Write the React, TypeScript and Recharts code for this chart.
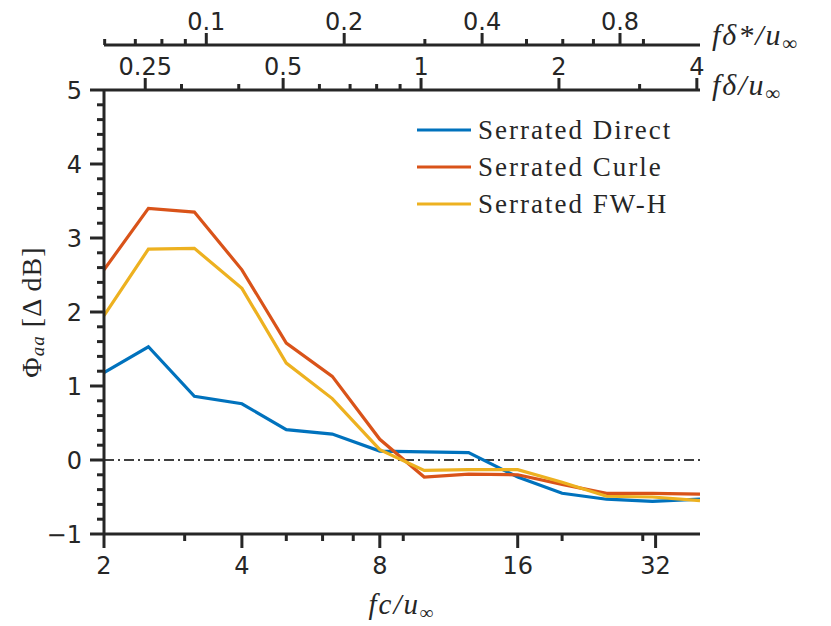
import React from 'react';
import { LineChart, Line, XAxis, YAxis, ReferenceLine, Legend } from 'recharts';

// ---- data ----
const fcValues = [2, 2.5, 3.15, 4, 5, 6.3, 8, 10, 12.5, 16, 20, 25, 31.5, 40];
const serratedDirect = [1.18, 1.53, 0.86, 0.76, 0.41, 0.35, 0.12, 0.11, 0.1, -0.23, -0.45, -0.53, -0.56, -0.53];
const serratedCurle = [2.57, 3.4, 3.35, 2.57, 1.58, 1.13, 0.28, -0.23, -0.19, -0.2, -0.33, -0.45, -0.45, -0.46];
const serratedFWH = [1.95, 2.85, 2.86, 2.32, 1.31, 0.83, 0.14, -0.14, -0.13, -0.13, -0.3, -0.49, -0.5, -0.55];

const seriesNames = ['Serrated Direct', 'Serrated Curle', 'Serrated FW-H'];
const seriesKeys = ['direct', 'curle', 'fwh'];
const seriesColors = ['#0072BD', '#D95319', '#EDB120'];

const fcMajorTicks = [2, 4, 8, 16, 32];
const fcMinorTicks = [3, 5, 6, 7, 9, 20, 30];
const fdMajorTicks = [0.25, 0.5, 1, 2, 4];
const fdMinorTicks = [0.3, 0.4, 0.6, 0.7, 0.8, 0.9, 3];
const fdsMajorTicks = [0.1, 0.2, 0.4, 0.8];
const fdsMinorTicks = [0.06, 0.07, 0.08, 0.09, 0.3, 0.5, 0.6, 0.7, 0.9];
const yMajorTicks = [-1, 0, 1, 2, 3, 4, 5];
const yMinorTicks = [-0.8, -0.6, -0.4, -0.2, 0.2, 0.4, 0.6, 0.8, 1.2, 1.4, 1.6, 1.8, 2.2, 2.4, 2.6, 2.8, 3.2, 3.4, 3.6, 3.8, 4.2, 4.4, 4.6, 4.8];

const fcDomain = [2, 40];
const fdPerFc = 0.1016; // f*delta/u over f*c/u
const fdsPerFc = 0.0299; // f*delta*/u over f*c/u
const yDomain = [-1, 5];

const data = fcValues.map((fc, i) => ({
  fc,
  fd: fc * fdPerFc,
  fds: fc * fdsPerFc,
  direct: serratedDirect[i],
  curle: serratedCurle[i],
  fwh: serratedFWH[i],
}));

// ---- styling helpers ----
const AXIS = '#262626';
const TICK_FONT = 'DejaVu Sans';
const SERIF = 'Liberation Serif';
const AXW = 3;

const isIn = (arr: number[], v: number) => arr.some((a) => Math.abs(a - v) < 1e-9);
const fmt = (v: number) => (v < 0 ? '\u2212' + String(-v) : String(v));

const BottomTick = (props: any) => {
  const { x, y, payload } = props;
  const major = isIn(fcMajorTicks, payload.value);
  return (
    <g>
      <line x1={x} x2={x} y1={y} y2={y + (major ? 14 : 7)} stroke={AXIS} strokeWidth={AXW} />
      {major && (
        <text x={x} y={y + 40} textAnchor="middle" fontFamily={TICK_FONT} fontSize={24} fill={AXIS}>
          {fmt(payload.value)}
        </text>
      )}
    </g>
  );
};

const makeTopTick = (majors: number[]) => (props: any) => {
  const { x, y, payload } = props;
  const major = isIn(majors, payload.value);
  return (
    <g>
      <line x1={x} x2={x} y1={y} y2={y - (major ? 12 : 6)} stroke={AXIS} strokeWidth={AXW} />
      {major && (
        <text x={x} y={y - 15.5} textAnchor="middle" fontFamily={TICK_FONT} fontSize={24} fill={AXIS}>
          {fmt(payload.value)}
        </text>
      )}
    </g>
  );
};
const FdTick = makeTopTick(fdMajorTicks);
const FdsTick = makeTopTick(fdsMajorTicks);

const LeftTick = (props: any) => {
  const { x, y, payload } = props;
  const major = isIn(yMajorTicks, payload.value);
  return (
    <g>
      <line x1={x} x2={x - (major ? 14 : 7)} y1={y} y2={y} stroke={AXIS} strokeWidth={AXW} />
      {major && (
        <text x={x - 22} y={y + 8.5} textAnchor="end" fontFamily={TICK_FONT} fontSize={24} fill={AXIS}>
          {fmt(payload.value)}
        </text>
      )}
    </g>
  );
};

const BottomLabel = (props: any) => {
  const vb = props.viewBox;
  return (
    <text x={vb.x + vb.width / 2} y={vb.y + 80} textAnchor="middle" fontFamily={SERIF} fontStyle="italic" fontSize={29} fill={AXIS} letterSpacing={2}>
      fc/u
      <tspan fontSize={19} dy={5}>∞</tspan>
    </text>
  );
};

const makeRightLabel = (main: string, dyBase: number) => (props: any) => {
  const vb = props.viewBox;
  return (
    <text x={vb.x + vb.width + 12} y={vb.y + vb.height + dyBase} textAnchor="start" fontFamily={SERIF} fontStyle="italic" fontSize={30} fill={AXIS} letterSpacing={2}>
      {main}
      <tspan fontSize={20} dy={5}>∞</tspan>
    </text>
  );
};
const FdsLabel = makeRightLabel('fδ*/u', 0);
const FdLabel = makeRightLabel('fδ/u', 5);

const YLabel = () => {
  const cx = 31;
  const cy = 312;
  return (
    <text x={cx} y={cy} transform={`rotate(-90, ${cx}, ${cy})`} textAnchor="middle" dominantBaseline="central" fontFamily={SERIF} fontSize={28} fill={AXIS} letterSpacing={1}>
      Φ
      <tspan fontStyle="italic" fontSize={19} dy={6}>aa</tspan>
      <tspan dy={-6}> [Δ dB]</tspan>
    </text>
  );
};

const LegendContent = () => (
  <svg width={300} height={120} style={{ overflow: 'visible' }}>
    {seriesNames.map((name, i) => (
      <g key={name}>
        <line x1={7} x2={61} y1={20 + i * 37} y2={20 + i * 37} stroke={seriesColors[i]} strokeWidth={3.2} />
        <text x={68} y={29 + i * 37} fontFamily={SERIF} fontSize={27} fill={AXIS} letterSpacing={2}>
          {name}
        </text>
      </g>
    ))}
  </svg>
);

export default function App() {
  return (
    <div style={{ position: 'absolute', left: 0, top: 0, background: '#fff' }}>
      <LineChart width={831} height={626} data={data} margin={{ top: 0, right: 131, bottom: 0, left: 0 }}>
        <XAxis
          xAxisId="fc"
          dataKey="fc"
          type="number"
          scale="log"
          domain={fcDomain}
          allowDataOverflow
          ticks={[...fcMajorTicks, ...fcMinorTicks]}
          interval={0}
          orientation="bottom"
          height={92}
          tickSize={0}
          tickMargin={0}
          tick={BottomTick}
          axisLine={{ stroke: AXIS, strokeWidth: AXW }}
          tickLine={false}
          label={BottomLabel}
        />
        <XAxis
          xAxisId="fd"
          dataKey="fd"
          type="number"
          scale="log"
          domain={[fcDomain[0] * fdPerFc, fcDomain[1] * fdPerFc]}
          allowDataOverflow
          ticks={[...fdMajorTicks, ...fdMinorTicks]}
          interval={0}
          orientation="top"
          height={45}
          tickSize={0}
          tickMargin={0}
          tick={FdTick}
          axisLine={{ stroke: AXIS, strokeWidth: AXW }}
          tickLine={false}
          label={FdLabel}
        />
        <XAxis
          xAxisId="fds"
          dataKey="fds"
          type="number"
          scale="log"
          domain={[fcDomain[0] * fdsPerFc, fcDomain[1] * fdsPerFc]}
          allowDataOverflow
          ticks={[...fdsMajorTicks, ...fdsMinorTicks]}
          interval={0}
          orientation="top"
          height={45}
          tickSize={0}
          tickMargin={0}
          tick={FdsTick}
          axisLine={{ stroke: AXIS, strokeWidth: AXW }}
          tickLine={false}
          label={FdsLabel}
        />
        <YAxis
          type="number"
          domain={yDomain}
          allowDataOverflow
          ticks={[...yMajorTicks, ...yMinorTicks]}
          interval={0}
          width={104}
          tickSize={0}
          tickMargin={0}
          tick={LeftTick}
          axisLine={{ stroke: AXIS, strokeWidth: AXW }}
          tickLine={false}
          label={YLabel}
        />
        <ReferenceLine xAxisId="fc" y={0} stroke="#000" strokeWidth={1.5} strokeDasharray="10 4 2 4" />
        {/* invisible carriers so the two upper frequency axes get their scales */}
        <Line xAxisId="fd" dataKey="direct" stroke="none" strokeOpacity={0} dot={false} legendType="none" isAnimationActive={false} />
        <Line xAxisId="fds" dataKey="direct" stroke="none" strokeOpacity={0} dot={false} legendType="none" isAnimationActive={false} />
        {seriesKeys.map((k, i) => (
          <Line
            key={k}
            xAxisId="fc"
            dataKey={k}
            name={seriesNames[i]}
            stroke={seriesColors[i]}
            strokeWidth={3.2}
            dot={false}
            type="linear"
            isAnimationActive={false}
          />
        ))}
        <Legend
          layout="vertical"
          align="center"
          verticalAlign="middle"
          wrapperStyle={{ position: 'absolute', left: 410, top: 110, width: 300, height: 120 }}
          content={LegendContent}
        />
      </LineChart>
    </div>
  );
}
